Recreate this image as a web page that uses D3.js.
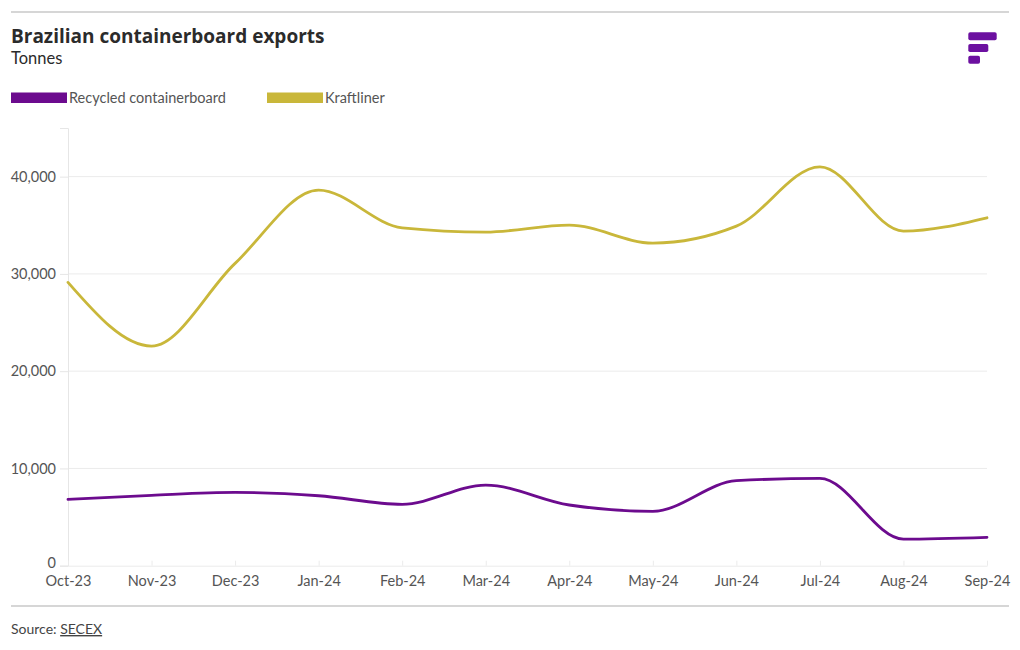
<!DOCTYPE html>
<html>
<head>
<meta charset="utf-8">
<script src="https://cdn.jsdelivr.net/npm/d3@7"></script>
<style>
  html, body { margin: 0; padding: 0; background: #fff; }
  svg { display: block; font-family: Lato, "Open Sans", sans-serif; }
</style>
</head>
<body>
<svg id="chart" width="1020" height="650"></svg>
<script>
const months = ["Oct-23","Nov-23","Dec-23","Jan-24","Feb-24","Mar-24","Apr-24","May-24","Jun-24","Jul-24","Aug-24","Sep-24"];
const recycled = [6820, 7240, 7540, 7190, 6310, 8290, 6240, 5590, 8740, 8980, 2740, 2920];
const kraftliner = [29130, 22580, 31080, 38610, 34740, 34300, 35010, 33170, 34910, 41010, 34400, 35770];
const yTicks = [0, 10000, 20000, 30000, 40000];
const seriesNames = ["Recycled containerboard", "Kraftliner"];
const seriesColors = ["#6c0b8e", "#c9b73a"];

const svg = d3.select("#chart");

// top rule
svg.append("line").attr("x1", 11).attr("x2", 1009).attr("y1", 12).attr("y2", 12)
  .attr("stroke", "#d6d6d6").attr("stroke-width", 2);

// title
svg.append("text").attr("x", 11).attr("y", 43).text("Brazilian containerboard exports")
  .attr("font-family", "'Open Sans', sans-serif")
  .attr("font-size", 19).attr("font-weight", 700).attr("fill", "#2b2b2b");
svg.append("text").attr("x", 11).attr("y", 64).text("Tonnes")
  .attr("font-size", 16.5).attr("fill", "#2b2b2b");

// logo
const logo = svg.append("g").attr("fill", "#6c10a0");
[[968.3, 32.3, 28.4], [968.3, 44, 20], [968.3, 55.7, 11.7]].forEach(([x, y, w]) => {
  logo.append("rect").attr("x", x).attr("y", y).attr("width", w).attr("height", 8).attr("rx", 1.8);
});

// legend
const legendX = [11, 267];
seriesNames.forEach((n, i) => {
  svg.append("rect").attr("x", legendX[i]).attr("y", 92.5).attr("width", 56).attr("height", 10.5)
    .attr("fill", seriesColors[i]);
  svg.append("text").attr("x", legendX[i] + 58).attr("y", 102.5).text(n)
    .attr("font-size", 14.5).attr("fill", "#555");
});

// scales
const x = d3.scalePoint().domain(months).range([68, 987]);
const y = d3.scaleLinear().domain([0, 45000]).range([565.7, 128]);

// gridlines
svg.append("g").selectAll("line").data(yTicks.slice(1)).join("line")
  .attr("x1", 68).attr("x2", 987)
  .attr("y1", d => y(d)).attr("y2", d => y(d))
  .attr("stroke", "#ebebeb").attr("stroke-width", 1);

// y axis
const yAxis = svg.append("g").attr("transform", "translate(68,0)")
  .call(d3.axisLeft(y).tickValues(yTicks).tickSize(8).tickPadding(4)
    .tickFormat(d3.format(",")));
yAxis.select(".domain").attr("stroke", "#e6e6e6");
yAxis.selectAll(".tick line").attr("stroke", "#e6e6e6");
yAxis.selectAll(".tick text").attr("font-size", 14.5).attr("fill", "#555")
  .attr("font-family", "Lato, sans-serif");
yAxis.selectAll(".tick").filter(d => d === 0).select("text").attr("dy", "0.12em");

// x axis
const xAxis = svg.append("g").attr("transform", "translate(0,565.7)")
  .call(d3.axisBottom(x).tickSize(0).tickPadding(10));
xAxis.select(".domain").attr("stroke", "#ebebeb");
xAxis.selectAll(".tick line").remove();
xAxis.selectAll(".tick").append("line").attr("y1", 0).attr("y2", -5).attr("stroke", "#ebebeb");
xAxis.selectAll(".tick text").attr("font-size", 14.5).attr("fill", "#555")
  .attr("font-family", "Lato, sans-serif");

// lines
const line = d3.line().x((d, i) => x(months[i])).y(d => y(d)).curve(d3.curveMonotoneX);
[[kraftliner, seriesColors[1]], [recycled, seriesColors[0]]].forEach(([arr, col]) => {
  svg.append("path").datum(arr).attr("d", line).attr("fill", "none")
    .attr("stroke", col)
    .attr("stroke-width", 2.8).attr("stroke-linejoin", "round").attr("stroke-linecap", "round");
});

// bottom rule
svg.append("line").attr("x1", 11).attr("x2", 1009).attr("y1", 606).attr("y2", 606)
  .attr("stroke", "#d6d6d6").attr("stroke-width", 2);

// source
const src = svg.append("text").attr("x", 11).attr("y", 634).attr("font-size", 14).attr("fill", "#444");
src.append("tspan").text("Source: ");
src.append("tspan").text("SECEX").attr("text-decoration", "underline");
</script>
</body>
</html>
